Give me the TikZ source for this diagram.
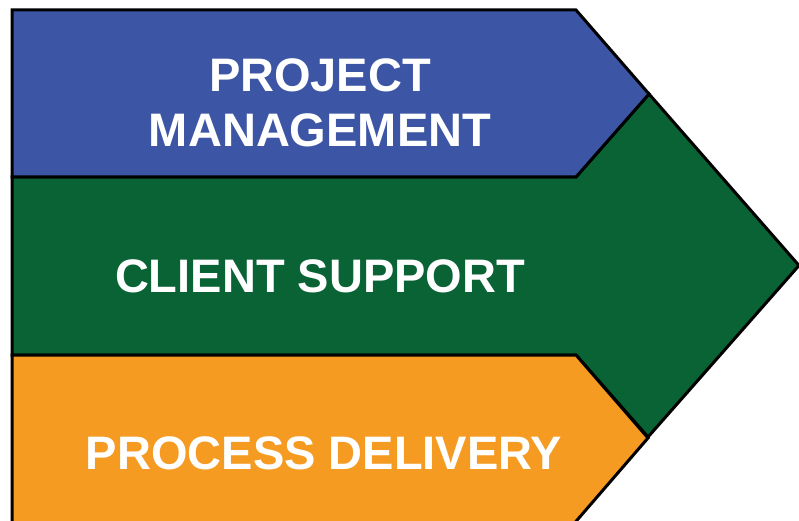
\documentclass[tikz,border=0pt]{standalone}
\usepackage{fontspec}
\setmainfont{Liberation Sans}
\usepackage{tikz}

\definecolor{pmblue}{HTML}{3C55A5}
\definecolor{csgreen}{HTML}{096335}
\definecolor{pdorange}{HTML}{F69B22}

\begin{document}
\begin{tikzpicture}[x=1pt,y=-1pt]
\tikzset{band/.style = {draw=black,line width=3pt,line join=miter}}
\tikzset{label/.style = {text=white,font=\bfseries\fontsize{47}{55}\selectfont,align=center,anchor=base,inner sep=0pt}}
\useasboundingbox (0,0) rectangle (799,521);
%\draw (0,0) rectangle (799,521);
\fill[white] (0,0) rectangle (799,521);
\filldraw[band,fill=csgreen] (12,177) -- (576,177) -- (649,94) -- (799,265.5) -- (648,437) -- (576,355) -- (12,355) -- cycle;
\filldraw[band,fill=pmblue] (12,10) -- (576,10) -- (649,94) -- (576,177) -- (12,177) -- cycle;
\filldraw[band,fill=pdorange] (12,355) -- (576,355) -- (648,438) -- (572,526) -- (12,526) -- cycle;
\node[label] (pm) at (320,147) {PROJECT\\MANAGEMENT};
\node[label] (cs) at (320,292) {CLIENT SUPPORT};
\node[label] (pd) at (324,469) {PROCESS DELIVERY};
\end{tikzpicture}
\end{document}
